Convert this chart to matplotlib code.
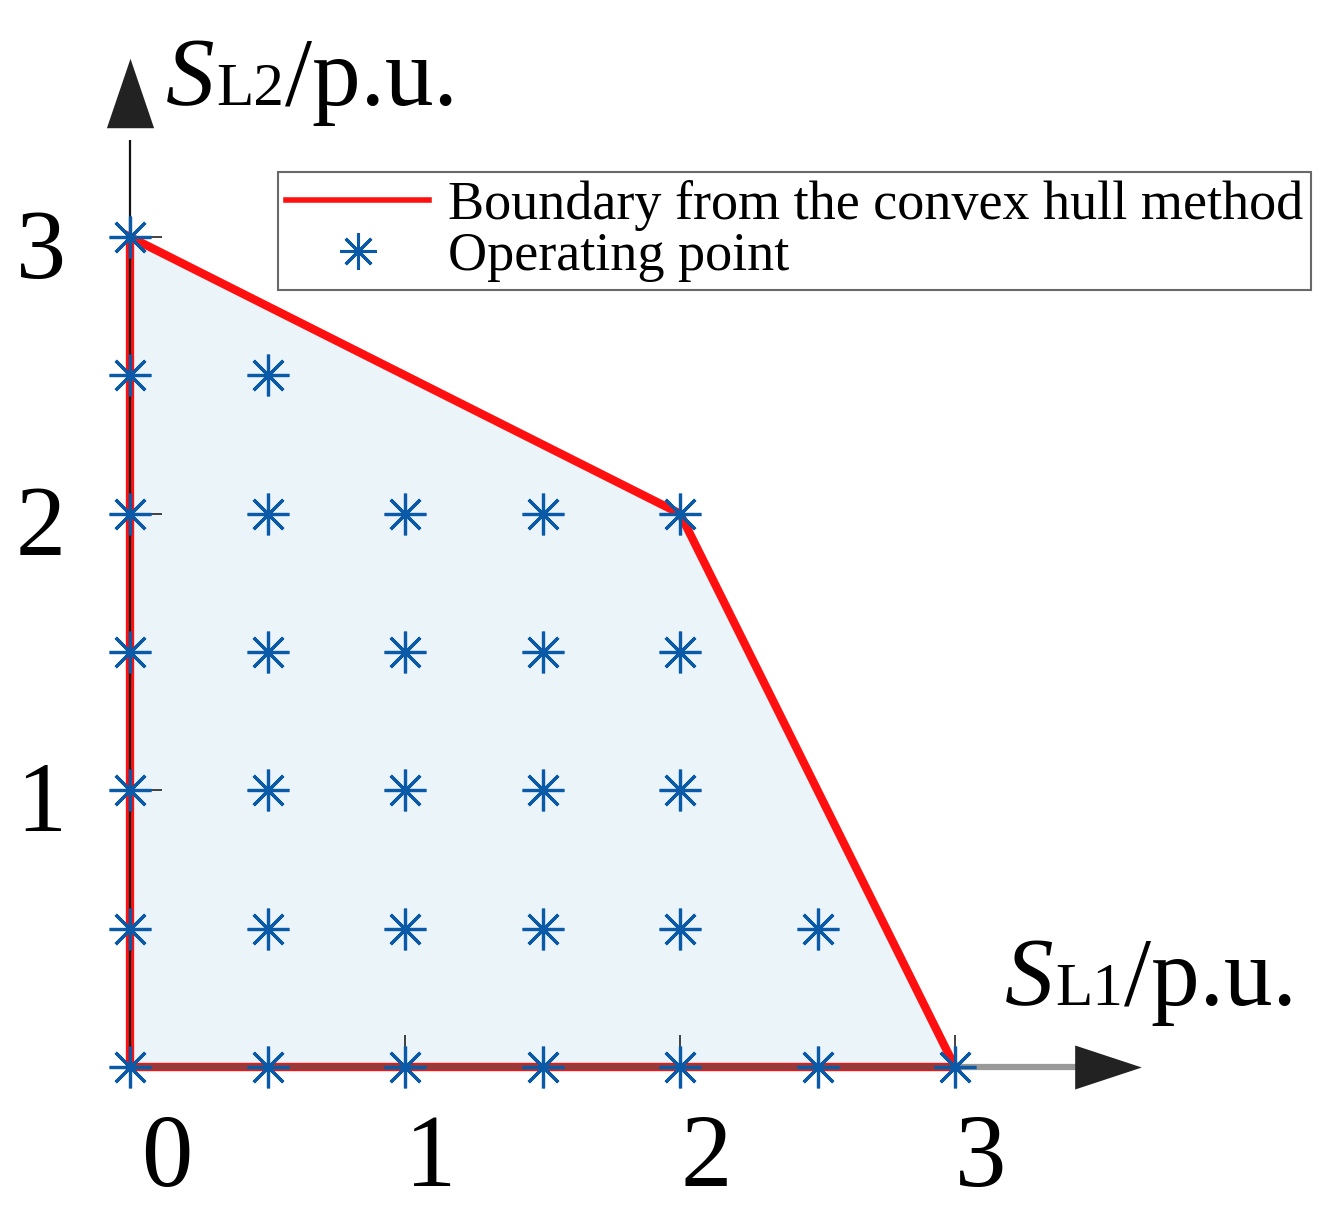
import matplotlib
matplotlib.use("Agg")
import matplotlib.pyplot as plt
import matplotlib.transforms as mtransforms
from matplotlib.lines import Line2D

# ---- data ----
hull_x = [0, 0, 2, 3, 0]
hull_y = [0, 3, 2, 0, 0]
pts_x = [0, 0.5, 1, 1.5, 2, 2.5, 3,
         0, 0.5, 1, 1.5, 2, 2.5,
         0, 0.5, 1, 1.5, 2,
         0, 0.5, 1, 1.5, 2,
         0, 0.5, 1, 1.5, 2,
         0, 0.5,
         0]
pts_y = [0, 0, 0, 0, 0, 0, 0,
         0.5, 0.5, 0.5, 0.5, 0.5, 0.5,
         1, 1, 1, 1, 1,
         1.5, 1.5, 1.5, 1.5, 1.5,
         2, 2, 2, 2, 2,
         2.5, 2.5,
         3]
xticks = [0, 1, 2, 3]
yticks = [1, 2, 3]
xtick_labels = ["0", "1", "2", "3"]
ytick_labels = ["1", "2", "3"]
legend_labels = ["Boundary from the convex hull method", "Operating point"]

W, H = 1339, 1224
fig = plt.figure(figsize=(W / 100, H / 100), dpi=100)
plt.rcParams['font.family'] = ['Liberation Serif', 'DejaVu Serif']
ax = fig.add_axes([130 / W, (H - 1067) / H, 825 / W, 830 / H])
ax.set_xlim(0, 3)
ax.set_ylim(0, 3)
for s in ax.spines.values():
    s.set_visible(False)
ax.patch.set_alpha(0)

red = '#ff1010'
blue = '#0a5aa8'

ax.fill(hull_x, hull_y, color='#ebf5f9', zorder=1, clip_on=False)
ax.plot(hull_x, hull_y, color=red, lw=6, zorder=2, clip_on=False,
        solid_joinstyle='miter')

# axes lines with arrows
ax.plot([0, 3.45], [0, 0], color='#555555', lw=4.5, alpha=0.6, zorder=3,
        clip_on=False, solid_capstyle='butt')
ax.plot([0, 0], [0, 3.35], color='#111111', lw=1.6, zorder=3, clip_on=False,
        solid_capstyle='butt')
right_tri = [(-0.5, -0.33), (-0.5, 0.33), (0.5, 0), (-0.5, -0.33)]
up_tri = [(-0.34, -0.5), (0.34, -0.5), (0, 0.5), (-0.34, -0.5)]
ax.plot([3.556], [0], marker=right_tri, ms=48, color='#222222', zorder=4,
        clip_on=False, markeredgewidth=0)
ax.plot([0], [3.52], marker=up_tri, ms=50, color='#222222', zorder=4,
        clip_on=False, markeredgewidth=0)

# operating points
ax.plot(pts_x, pts_y, linestyle='none', marker=(8, 2, 0), ms=30,
        markeredgecolor=blue, markeredgewidth=2.3, zorder=5, clip_on=False)

# ticks
ax.set_xticks(xticks)
ax.set_xticklabels(xtick_labels, fontsize=74)
ax.set_yticks(yticks)
ax.set_yticklabels(ytick_labels, fontsize=72)
ax.tick_params(axis='x', direction='in', length=23, width=1.2, pad=34,
               color='#222222')
ax.tick_params(axis='y', direction='in', length=23, width=1.2, pad=46,
               color='#222222')
for i, lab in enumerate(ax.get_xticklabels()):
    dx = 37 if i == 0 else 26
    off = mtransforms.ScaledTranslation(dx / 100, 0, fig.dpi_scale_trans)
    lab.set_transform(lab.get_transform() + off)
offy = mtransforms.ScaledTranslation(0, -6 / 100, fig.dpi_scale_trans)
for lab in ax.get_yticklabels():
    lab.set_transform(lab.get_transform() + offy)

# axis labels
def axis_label(x_px, y_px, sub):
    t1 = fig.text(x_px / W, 1 - y_px / H, "S", fontsize=70, style='italic',
                  va='baseline', ha='left')
    t2 = ax.annotate(sub, xy=(1, 0), xycoords=t1, xytext=(1, 6),
                     textcoords='offset points', fontsize=44,
                     va='bottom', ha='left', annotation_clip=False)
    ax.annotate("/p.u.", xy=(1, 0), xycoords=t2, xytext=(1, -6),
                textcoords='offset points', fontsize=70,
                va='bottom', ha='left', annotation_clip=False)

axis_label(166, 105, "L2")
axis_label(1005, 1005, "L1")

# legend
handles = [Line2D([], [], color=red, lw=4),
           Line2D([], [], linestyle='none', marker=(8, 2, 0), ms=26,
                  markeredgecolor=blue, markeredgewidth=2.2)]
leg = fig.legend(handles, legend_labels, loc='upper left',
                 bbox_to_anchor=(278 / W, 1 - 172 / H), fontsize=39,
                 frameon=True, fancybox=False, edgecolor='#444444',
                 handlelength=2.64, handletextpad=0.35, borderpad=0.15,
                 labelspacing=0.0, borderaxespad=0)
leg.get_frame().set_linewidth(1.5)

fig.savefig("out.png", dpi=100)
